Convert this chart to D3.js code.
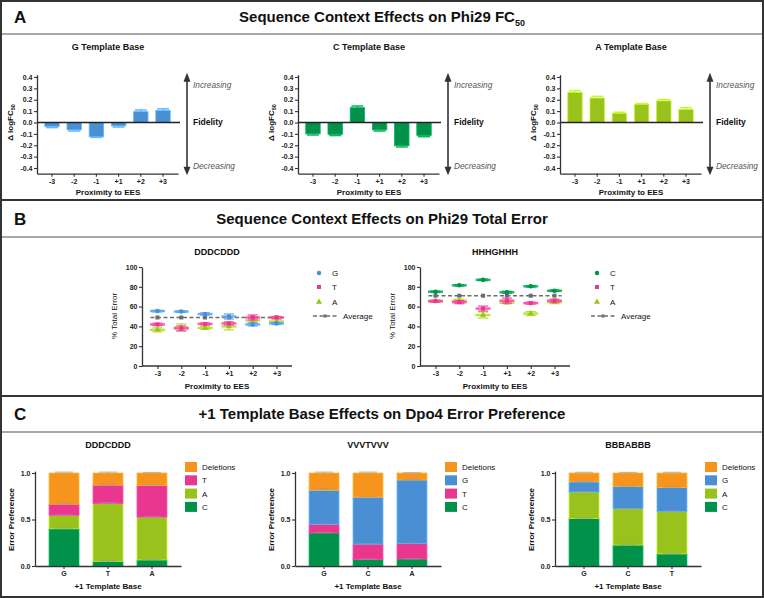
<!DOCTYPE html>
<html><head><meta charset="utf-8">
<script src="https://cdn.jsdelivr.net/npm/d3@7"></script>
<style>
body{margin:0;background:#fff}
svg{display:block}
text{font-family:"Liberation Sans",Arial,Helvetica,sans-serif}
</style>
</head><body>
<svg id="c" width="764" height="598"></svg>
<script>
// ---------- DATA ----------
const positions = ["-3","-2","-1","+1","+2","+3"];
const fcTicks = [0.4,0.3,0.2,0.1,0.0,-0.1,-0.2,-0.3,-0.4];
const fcG = [-0.035,-0.065,-0.125,-0.03,0.095,0.105];
const fcGErr = [0.01,0.01,0.006,0.01,0.015,0.015];
const fcC = [-0.10,-0.105,0.13,-0.065,-0.205,-0.115];
const fcCErr = [0.01,0.01,0.015,0.01,0.01,0.01];
const fcA = [0.265,0.215,0.08,0.16,0.19,0.115];
const fcAErr = [0.015,0.015,0.01,0.007,0.012,0.015];

const errTicks = [0,20,40,60,80,100];
const dG = [55.5,55,52.5,50,42,43];      const dGsd = [0.8,0.8,1.2,2.5,1.5,1];
const dT = [42,38,42.5,43,49,49];        const dTsd = [1.2,2.5,1,1.5,2.5,1];
const dA = [36.5,39,38.5,40,46,45];      const dAsd = [2,3.5,1.5,3.5,2,2];
const dAvg = [49,49,49,49,49,49];
const hC = [75,81.5,87,74.5,80.5,76];    const hCsd = [0.8,0.8,0.8,1,0.8,0.8];
const hT = [65.5,64.5,58,66,63.5,66];    const hTsd = [1,1.5,2.5,2.5,1,1.5];
const hA = [65.5,66,51.5,64,53,64.5];    const hAsd = [1,1.5,3,1,2,1.5];
const hAvg = [71,71,71,71,71,71];

const prefTicks = [0,0.5,1.0];
const dddCats = ["G","T","A"];
const dddC = [0.40,0.05,0.065];  const dddCe = [0.008,0.005,0.005];
const dddA = [0.145,0.62,0.46];  const dddAe = [0.005,0.012,0.005];
const dddT = [0.12,0.20,0.34];   const dddTe = [0.005,0.008,0.008];
const dddD = [0.335,0.13,0.135]; const dddDe = [0.01,0.01,0.005];
const vvvCats = ["G","C","A"];
const vvvC = [0.355,0.07,0.075]; const vvvCe = [0.006,0.004,0.004];
const vvvT = [0.09,0.165,0.165]; const vvvTe = [0.004,0.004,0.004];
const vvvG = [0.37,0.505,0.685]; const vvvGe = [0.015,0.01,0.004];
const vvvD = [0.185,0.26,0.075]; const vvvDe = [0.01,0.01,0.004];
const bbbCats = ["G","C","T"];
const bbbC = [0.51,0.225,0.13];  const bbbCe = [0.005,0.008,0.004];
const bbbA = [0.285,0.39,0.455]; const bbbAe = [0.008,0.005,0.006];
const bbbG = [0.11,0.24,0.26];   const bbbGe = [0.004,0.005,0.005];
const bbbD = [0.095,0.145,0.155];const bbbDe = [0.008,0.006,0.008];

// ---------- COLORS ----------
const COL = {blue:"#4a8fd4", green:"#00914a", lime:"#99c21d", pink:"#e9378f", orange:"#f7941d", gray:"#6d6d6d"};
const AX = "#333";

const svg = d3.select("#c");
svg.append("rect").attr("width",764).attr("height",598).attr("fill","#fff");

// ---------- FRAME & HEADERS ----------
function hline(y,color,w){svg.append("line").attr("x1",0).attr("x2",764).attr("y1",y).attr("y2",y).attr("stroke",color).attr("stroke-width",w);}
hline(34,"#8a8a8a",1.5); hline(237,"#8a8a8a",1.5); hline(432,"#8a8a8a",1.5);
hline(200,"#333",2); hline(396,"#333",2);
svg.append("rect").attr("x",1).attr("y",1).attr("width",762).attr("height",596)
  .attr("fill","none").attr("stroke","#333").attr("stroke-width",2);

function header(letter, y, title, sub){
  svg.append("text").attr("x",14).attr("y",y+6).attr("font-size",17).attr("font-weight","bold").attr("fill","#111").text(letter);
  const t = svg.append("text").attr("x",382).attr("y",y+5).attr("text-anchor","middle")
    .attr("font-size",15).attr("font-weight","bold").attr("fill","#111").text(title);
  if(sub) t.append("tspan").attr("font-size",9).attr("dy",4).text(sub);
}
header("A",17,"Sequence Context Effects on Phi29 FC","50");
header("B",218.5,"Sequence Context Effects on Phi29 Total Error");
header("C",414,"+1 Template Base Effects on Dpo4 Error Preference");

function styleAxis(g){
  g.select(".domain").attr("stroke",AX).attr("stroke-width",1.3);
  g.selectAll(".tick line").attr("stroke",AX).attr("stroke-width",1.1);
  g.selectAll(".tick text").attr("font-size",7).attr("font-weight","bold").attr("fill","#222")
    .attr("font-family","'Liberation Sans',Arial,sans-serif");
}
function label(x,y,txt,size,opts={}){
  const t = svg.append("text").attr("x",x).attr("y",y).attr("text-anchor",opts.anchor||"middle")
    .attr("font-size",size).attr("font-weight",opts.weight||"bold").attr("fill",opts.fill||"#111").text(txt);
  if(opts.italic) t.attr("font-style","italic");
  if(opts.rotate) t.attr("transform",`rotate(-90,${x},${y})`);
  return t;
}

// ---------- PANEL A ----------
function fcPanel(x0, title, vals, errs, color){
  const y = d3.scaleLinear().domain([-0.45,0.42]).range([173.7,74.7]);
  const x = d3.scaleBand().domain(positions).range([x0,x0+141]).padding(0.35);
  const g = svg.append("g");
  const ec = d3.color(color).brighter(0.7).formatHex();
  positions.forEach((p,i)=>{
    const v = vals[i], e = errs[i]*(v<0?-1:1);
    const cx = x(p)+x.bandwidth()/2;
    g.append("line").attr("x1",cx).attr("x2",cx).attr("y1",y(v)).attr("y2",y(v+e)).attr("stroke",ec).attr("stroke-width",1.5);
    g.append("line").attr("x1",cx-6).attr("x2",cx+6).attr("y1",y(v+e)).attr("y2",y(v+e)).attr("stroke",ec).attr("stroke-width",1.5);
    g.append("rect").attr("x",x(p)).attr("width",x.bandwidth())
      .attr("y",Math.min(y(v),y(0))).attr("height",Math.abs(y(v)-y(0)))
      .attr("fill",color).attr("stroke",ec).attr("stroke-width",0.8);
  });
  g.append("line").attr("x1",x0).attr("x2",x0+143).attr("y1",y(0)).attr("y2",y(0)).attr("stroke","#222").attr("stroke-width",1.3);
  const ya = svg.append("g").attr("transform",`translate(${x0},0)`)
    .call(d3.axisLeft(y).tickValues(fcTicks).tickSize(3).tickPadding(1.5).tickSizeOuter(0).tickFormat(d=>d.toFixed(1)));
  styleAxis(ya);
  const xa = svg.append("g").attr("transform",`translate(0,${y(-0.45)})`)
    .call(d3.axisBottom(x).tickSize(3).tickPadding(2).tickSizeOuter(0));
  styleAxis(xa);
  label(x0+71,50,title,9);
  label(x0+71,195,"Proximity to EES",8);
  const yl = label(x0-24,y(0),"\u0394 logFC",8,{rotate:true});
  yl.append("tspan").attr("font-size",5.5).attr("dy",2).text("50");
  // arrow
  const ax = x0+150;
  svg.append("line").attr("x1",ax).attr("x2",ax).attr("y1",y(0.42)+6).attr("y2",y(-0.45)-5).attr("stroke","#333").attr("stroke-width",1.6);
  svg.append("path").attr("d",`M${ax},${y(0.42)-2}L${ax-3.5},${y(0.42)+7}L${ax+3.5},${y(0.42)+7}Z`).attr("fill","#333");
  svg.append("path").attr("d",`M${ax},${y(-0.45)+1.5}L${ax-3.5},${y(-0.45)-7}L${ax+3.5},${y(-0.45)-7}Z`).attr("fill","#333");
  label(ax+6,y(0.33)+3,"Increasing",8.3,{anchor:"start",weight:"normal",italic:true,fill:"#555"});
  label(ax+6,y(0)+3,"Fidelity",8.5,{anchor:"start"});
  label(ax+6,y(-0.38)+3,"Decreasing",8.3,{anchor:"start",weight:"normal",italic:true,fill:"#555"});
}
fcPanel(37,"G Template Base",fcG,fcGErr,COL.blue);
fcPanel(298,"C Template Base",fcC,fcCErr,COL.green);
fcPanel(560,"A Template Base",fcA,fcAErr,COL.lime);

// ---------- PANEL B ----------
function errPanel(x0,title,series,avg){
  const y = d3.scaleLinear().domain([0,100]).range([366,267]);
  const x = d3.scalePoint().domain(positions).range([x0,x0+150]).padding(0.65);
  const g = svg.append("g");
  // average dashed line
  g.append("line").attr("x1",x(positions[0])-7).attr("x2",x(positions[5])+7)
    .attr("y1",y(avg[0])).attr("y2",y(avg[5])).attr("stroke",COL.gray).attr("stroke-width",1.6).attr("stroke-dasharray","4,2.5");
  positions.forEach((p,i)=>{
    g.append("rect").attr("x",x(p)-2).attr("y",y(avg[i])-2).attr("width",4).attr("height",4).attr("fill",COL.gray);
  });
  series.forEach(s=>{
    const lc = d3.color(s.color).brighter(0.4).formatHex();
    positions.forEach((p,i)=>{
      const cx = x(p), m = s.v[i], sd = s.sd[i];
      g.append("line").attr("x1",cx).attr("x2",cx).attr("y1",y(m-sd)).attr("y2",y(m+sd)).attr("stroke",lc).attr("stroke-width",1.1).attr("opacity",0.9);
      [m-sd,m+sd].forEach(v=>g.append("line").attr("x1",cx-5).attr("x2",cx+5).attr("y1",y(v)).attr("y2",y(v)).attr("stroke",lc).attr("stroke-width",1.3).attr("opacity",0.9));
      g.append("line").attr("x1",cx-7.5).attr("x2",cx+7.5).attr("y1",y(m)).attr("y2",y(m)).attr("stroke",lc).attr("stroke-width",2.4).attr("opacity",0.85);
      g.append("path").attr("transform",`translate(${cx},${y(m)})`)
        .attr("d",d3.symbol().type(s.sym).size(16)()).attr("fill",s.color);
    });
  });
  const ya = svg.append("g").attr("transform",`translate(${x0},0)`)
    .call(d3.axisLeft(y).tickValues(errTicks).tickSize(3).tickPadding(1.5).tickSizeOuter(0));
  styleAxis(ya);
  const xa = svg.append("g").attr("transform",`translate(0,${y(0)})`)
    .call(d3.axisBottom(x).tickSize(3).tickPadding(2).tickSizeOuter(0));
  styleAxis(xa);
  xa.select(".domain").attr("d",`M${x0},0H${x0+150}`);
  label(x0+75,255,title,9);
  label(x0+75,389,"Proximity to EES",8);
  label(x0-25,316,"% Total Error",8,{rotate:true,weight:"normal"});
  // legend
  const rows = [273,287,302,316];
  series.slice().reverse().forEach((s,i)=>{
    svg.append("path").attr("transform",`translate(${x0+177},${rows[i]})`)
      .attr("d",d3.symbol().type(s.sym).size(16)()).attr("fill",s.color);
    label(x0+190,rows[i]+3,s.name,8,{anchor:"start",weight:"normal"});
  });
  svg.append("line").attr("x1",x0+171).attr("x2",x0+196).attr("y1",rows[3]).attr("y2",rows[3])
    .attr("stroke",COL.gray).attr("stroke-width",1.4).attr("stroke-dasharray","4,2.5");
  svg.append("rect").attr("x",x0+181.5).attr("y",rows[3]-1.5).attr("width",3).attr("height",3).attr("fill",COL.gray);
  label(x0+201,rows[3]+3,"Average",8,{anchor:"start",weight:"normal"});
}
errPanel(142,"DDDCDDD",[
  {name:"A",v:dA,sd:dAsd,color:COL.lime,sym:d3.symbolTriangle},
  {name:"T",v:dT,sd:dTsd,color:COL.pink,sym:d3.symbolSquare},
  {name:"G",v:dG,sd:dGsd,color:COL.blue,sym:d3.symbolCircle}],dAvg);
errPanel(420,"HHHGHHH",[
  {name:"A",v:hA,sd:hAsd,color:COL.lime,sym:d3.symbolTriangle},
  {name:"T",v:hT,sd:hTsd,color:COL.pink,sym:d3.symbolSquare},
  {name:"C",v:hC,sd:hCsd,color:COL.green,sym:d3.symbolCircle}],hAvg);

// ---------- PANEL C ----------
function stackPanel(x0,title,cats,layers){
  const y = d3.scaleLinear().domain([0,1.02]).range([566,566-93*1.02]);
  const x = d3.scaleBand().domain(cats).range([x0,x0+146]).paddingInner(0.32).paddingOuter(0.32);
  const table = cats.map((c,i)=>{const o={cat:c}; layers.forEach(l=>o[l.name]=l.v[i]); return o;});
  const stacked = d3.stack().keys(layers.map(l=>l.name))(table);
  const g = svg.append("g");
  stacked.forEach((st,li)=>{
    const L = layers[li];
    const ec = d3.color(L.color).brighter(0.6).formatHex();
    st.forEach((d,i)=>{
      g.append("rect").attr("x",x(cats[i])).attr("width",x.bandwidth())
        .attr("y",y(d[1])).attr("height",y(d[0])-y(d[1]))
        .attr("fill",L.color).attr("stroke",ec).attr("stroke-width",0.8);
    });
  });
  stacked.forEach((st,li)=>{
    const L = layers[li];
    st.forEach((d,i)=>{
      const cx = x(cats[i])+x.bandwidth()/2, e = L.e[i];
      g.append("line").attr("x1",cx-9).attr("x2",cx+9).attr("y1",y(d[1]+e)).attr("y2",y(d[1]+e))
        .attr("stroke","#9a9a9a").attr("stroke-opacity",0.6).attr("stroke-width",1.2);
      g.append("line").attr("x1",cx).attr("x2",cx).attr("y1",y(d[1])).attr("y2",y(d[1]+e))
        .attr("stroke","#9a9a9a").attr("stroke-opacity",0.6).attr("stroke-width",1);
    });
  });
  const ya = svg.append("g").attr("transform",`translate(${x0},0)`)
    .call(d3.axisLeft(y).tickValues(prefTicks).tickSize(3).tickPadding(1.5).tickSizeOuter(0).tickFormat(d=>d.toFixed(1)));
  styleAxis(ya);
  const xa = svg.append("g").attr("transform",`translate(0,${y(0)})`)
    .call(d3.axisBottom(x).tickSize(3).tickPadding(2).tickSizeOuter(0));
  styleAxis(xa);
  label(x0+73,448,title,9);
  label(x0+73,589,"+1 Template Base",8);
  label(x0-21,519.5,"Error Preference",8,{rotate:true});
  layers.slice().reverse().forEach((L,i)=>{
    const ry = 467+i*13.3;
    svg.append("rect").attr("x",x0+150).attr("y",ry-5).attr("width",12).attr("height",10).attr("fill",L.color);
    label(x0+167,ry+3,L.name,8,{anchor:"start",weight:"normal"});
  });
}
stackPanel(35,"DDDCDDD",dddCats,[
  {name:"C",v:dddC,e:dddCe,color:COL.green},
  {name:"A",v:dddA,e:dddAe,color:COL.lime},
  {name:"T",v:dddT,e:dddTe,color:COL.pink},
  {name:"Deletions",v:dddD,e:dddDe,color:COL.orange}]);
stackPanel(295,"VVVTVVV",vvvCats,[
  {name:"C",v:vvvC,e:vvvCe,color:COL.green},
  {name:"T",v:vvvT,e:vvvTe,color:COL.pink},
  {name:"G",v:vvvG,e:vvvGe,color:COL.blue},
  {name:"Deletions",v:vvvD,e:vvvDe,color:COL.orange}]);
stackPanel(555,"BBBABBB",bbbCats,[
  {name:"C",v:bbbC,e:bbbCe,color:COL.green},
  {name:"A",v:bbbA,e:bbbAe,color:COL.lime},
  {name:"G",v:bbbG,e:bbbGe,color:COL.blue},
  {name:"Deletions",v:bbbD,e:bbbDe,color:COL.orange}]);
</script>
</body></html>
